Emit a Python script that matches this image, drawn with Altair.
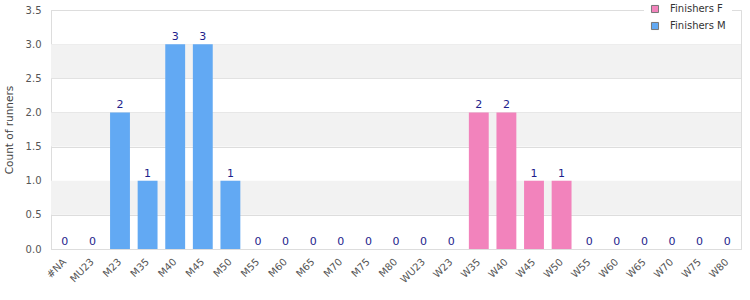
import altair as alt
import pandas as pd

categories = ["#NA", "MU23", "M23", "M35", "M40", "M45", "M50", "M55", "M60", "M65",
              "M70", "M75", "M80", "WU23", "W23", "W35", "W40", "W45", "W50", "W55",
              "W60", "W65", "W70", "W75", "W80"]
counts = [0, 0, 2, 1, 3, 3, 1, 0, 0, 0,
          0, 0, 0, 0, 0, 2, 2, 1, 1, 0,
          0, 0, 0, 0, 0]
series = ["Finishers M"] * 13 + ["Finishers F"] * 12
legend_names = ["Finishers F", "Finishers M"]
legend_colors = ["#F283BC", "#62A9F3"]
stripe_lo = [0.5, 1.5, 2.5]
stripe_hi = [1.0, 2.0, 3.0]
y_ticks = [0, 0.5, 1.0, 1.5, 2.0, 2.5, 3.0, 3.5]

df = pd.DataFrame({"cat": categories, "count": counts, "series": series})
stripes = pd.DataFrame({"lo": stripe_lo, "hi": stripe_hi})

W, H = 690, 239
FONT = "DejaVu Sans"

yscale = alt.Scale(domain=[0, 3.5], nice=False)
xscale = alt.Scale(paddingInner=0.28, paddingOuter=0.14)

yaxis = alt.Axis(title="Count of runners", values=y_ticks, format=".1f",
                 ticks=False, labelFontSize=10, labelColor="#555", labelOverlap=False,
                 titleFontSize=10.5, titleFontWeight="normal", titleColor="#444",
                 domainColor="#DDDDDD", gridColor="#DDDDDD", labelPadding=10,
                 titlePadding=11)
xaxis = alt.Axis(title=None, labelAngle=-45, labelAlign="right", labelBaseline="middle",
                 ticks=False, labelFontSize=10,
                 labelColor="#555", domainColor="#DDDDDD", labelPadding=11,
                 labelOverlap=False)

band = alt.Chart(stripes).mark_rect(color="#F2F2F2").encode(
    x=alt.value(0), x2=alt.value(W),
    y=alt.Y("lo:Q", scale=yscale, axis=yaxis), y2="hi:Q",
)

bars = alt.Chart(df).mark_bar().encode(
    x=alt.X("cat:N", sort=categories, scale=xscale, axis=xaxis),
    y=alt.Y("count:Q", scale=yscale, axis=yaxis),
    color=alt.Color("series:N",
                    scale=alt.Scale(domain=legend_names, range=legend_colors),
                    legend=alt.Legend(title=None, orient="none", legendX=593, legendY=-12,
                                      fillColor="white", padding=6, labelFontSize=10,
                                      labelColor="#333", symbolType="square",
                                      symbolSize=50, symbolStrokeColor="#777",
                                      symbolStrokeWidth=1, rowPadding=5,
                                      labelOffset=10)),
)

labels = alt.Chart(df).mark_text(dy=-4, baseline="alphabetic", fontSize=11,
                                 color="#1E1E8C", font=FONT).encode(
    x=alt.X("cat:N", sort=categories, scale=xscale, axis=xaxis),
    y=alt.Y("count:Q", scale=yscale, axis=yaxis),
    text="count:Q",
)

chart = alt.layer(band, bars, labels).properties(
    width=W, height=H,
    autosize=alt.AutoSizeParams(type="none"),
    padding={"left": 51, "top": 10, "right": 9, "bottom": 51},
).configure(font=FONT).configure_view(stroke="#DDDDDD")

chart.save("out.html", embed_options={"renderer": "svg", "actions": False})
